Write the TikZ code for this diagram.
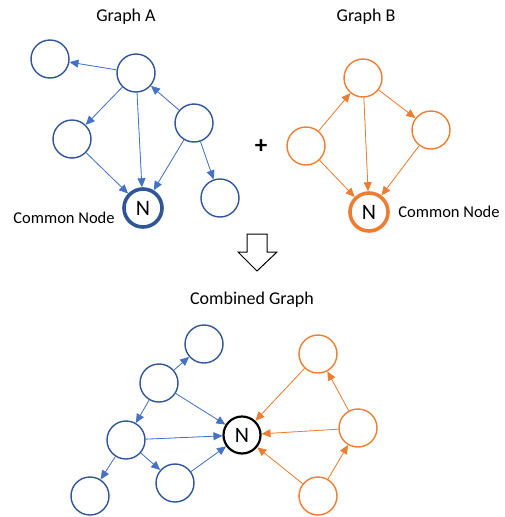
\documentclass[tikz,border=0pt]{standalone}
\usepackage{fontspec}
\setmainfont{Carlito}
\usetikzlibrary{arrows.meta}
\definecolor{bborder}{HTML}{2F5597}
\definecolor{bedge}{HTML}{4472C4}
\definecolor{oran}{HTML}{ED7D31}
\tikzset{
  bnode/.style={circle, draw=bborder, line width=1.4pt, minimum size=38pt, inner sep=0pt},
  onode/.style={circle, draw=oran, line width=1.4pt, minimum size=38pt, inner sep=0pt},
  bedgestyle/.style={draw=bedge, line width=0.8pt, -{Triangle[length=9pt,width=8pt]}, fill=bedge},
  oedgestyle/.style={draw=oran, line width=0.8pt, -{Triangle[length=9pt,width=8pt]}, fill=oran},
  title/.style={font=\fontsize{18}{21}\selectfont},
  lab/.style={font=\fontsize{16.5}{19}\selectfont},
  nlab/.style={font=\fontsize{22}{26}\selectfont}
}
\begin{document}
\begin{tikzpicture}[x=1pt,y=-1pt]
\useasboundingbox (0,0) rectangle (504,517);
% Graph A
\node[title] (ta) at (126,17) {Graph A};
\node[bnode] (a1) at (50,59) {};
\node[bnode] (a2) at (136,73) {};
\node[bnode] (a3) at (72,139) {};
\node[bnode] (a4) at (194,123) {};
\node[bnode] (a5) at (220,198) {};
\node[circle, draw=bborder, line width=3.6pt, minimum size=38pt, inner sep=0pt, nlab] (na) at (143,208) {N};
\node[lab] (cna) at (64,218) {Common Node};
\draw[bedgestyle] (a2) -- (a1);
\draw[bedgestyle] (a2) -- (a3);
\draw[bedgestyle] (a2) -- (na);
\draw[bedgestyle] (a4) -- (a2);
\draw[bedgestyle] (a4) -- (na);
\draw[bedgestyle] (a3) -- (na);
\draw[bedgestyle] (a4) -- (a5);
% plus
\node[font=\fontsize{25}{28}\selectfont\bfseries] (plus) at (261,147) {+};
% Graph B
\node[title] (tb) at (366,17) {Graph B};
\node[onode] (b1) at (363,78) {};
\node[onode] (b2) at (306,146) {};
\node[onode] (b3) at (431,130) {};
\node[circle, draw=oran, line width=3.6pt, minimum size=38pt, inner sep=0pt, nlab] (nb) at (369,212) {N};
\node[lab] (cnb) at (449,212) {Common Node};
\draw[oedgestyle] (b2) -- (b1);
\draw[oedgestyle] (b1) -- (b3);
\draw[oedgestyle] (b1) -- (nb);
\draw[oedgestyle] (b2) -- (nb);
\draw[oedgestyle] (b3) -- (nb);
% block arrow
\draw[line width=1pt, black, line join=miter] (247,234) -- (267,234) -- (267,252) -- (277,252) -- (257,271) -- (238,252) -- (247,252) -- cycle;
% Combined
\node[title] (tc) at (252,300) {Combined Graph};
\node[bnode] (c1) at (204,344) {};
\node[bnode] (c2) at (159,383) {};
\node[bnode] (c3) at (126,440) {};
\node[bnode] (c4) at (175,483) {};
\node[bnode] (c5) at (90,496) {};
\node[circle, draw=black, line width=2.2pt, minimum size=37pt, inner sep=0pt, nlab] (nc) at (242,435) {N};
\node[onode] (d1) at (318,354) {};
\node[onode] (d2) at (358,428) {};
\node[onode] (d3) at (318,496) {};
\draw[bedgestyle] (c2) -- (c1);
\draw[bedgestyle] (c2) -- (c3);
\draw[bedgestyle] (c2) -- (nc);
\draw[bedgestyle] (c3) -- (nc);
\draw[bedgestyle] (c3) -- (c4);
\draw[bedgestyle] (c3) -- (c5);
\draw[bedgestyle] (c4) -- (nc);
\draw[oedgestyle] (d1) -- (nc);
\draw[oedgestyle] (d2) -- (nc);
\draw[oedgestyle] (d3) -- (nc);
\draw[oedgestyle] (d2) -- (d1);
\draw[oedgestyle] (d3) -- (d2);
\end{tikzpicture}
\end{document}
